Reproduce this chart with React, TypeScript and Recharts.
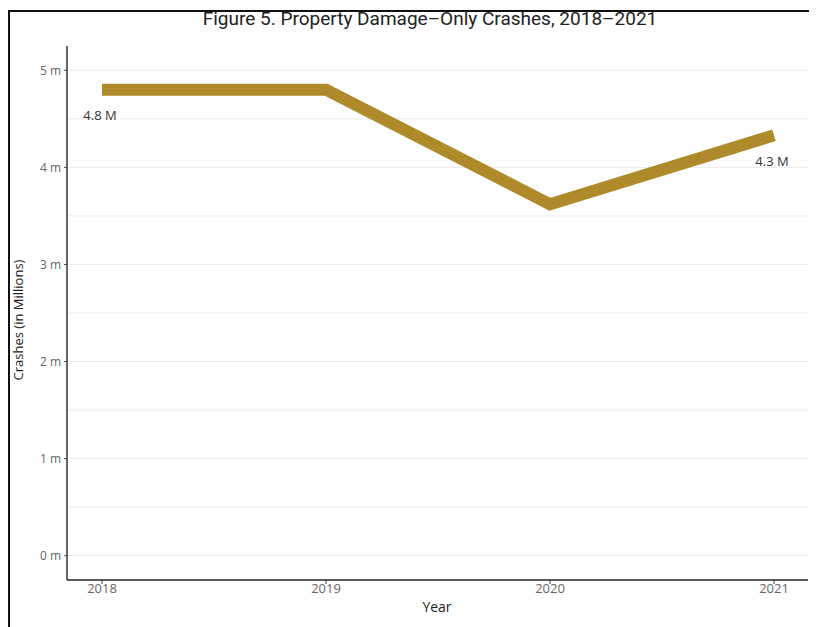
import React from "react";
import { LineChart, Line, XAxis, YAxis, CartesianGrid, LabelList } from "recharts";

const years = [2018, 2019, 2020, 2021];
const crashesMillions = [4.8, 4.8, 3.62, 4.33];
const pointLabels = ["4.8 M", "", "", "4.3 M"];
const yTicks = [0, 1, 2, 3, 4, 5];
const gridValues = [0, 0.5, 1, 1.5, 2, 2.5, 3, 3.5, 4, 4.5, 5];

const data = years.map((y, i) => ({ year: y, value: crashesMillions[i], label: pointLabels[i] }));

const PointLabel = (props: any) => {
  const { x, y, value } = props;
  if (!value) return null;
  return (
    <text x={x - 2} y={y + 27} textAnchor="middle" dominantBaseline="middle" fontSize={13} fill="#333" fontFamily="Open Sans, sans-serif">
      {value}
    </text>
  );
};

export default function App() {
  return (
    <div
      style={{
        position: "relative",
        marginTop: 2,
        width: 803,
        height: 630,
        borderTop: "2px solid #111",
        borderLeft: "2px solid #111",
        borderRight: "3px solid #111",
        background: "#fff",
        fontFamily: "Open Sans, sans-serif",
      }}
    >
      <div
        style={{
          position: "absolute",
          left: 420,
          top: -3,
          transform: "translateX(-50%)",
          whiteSpace: "nowrap",
          fontFamily: "Roboto, sans-serif",
          fontSize: 19,
          lineHeight: "20px",
          color: "#222",
        }}
      >
        Figure 5. Property Damage–Only Crashes, 2018–2021
      </div>
      <div
        style={{
          position: "absolute",
          left: 8,
          top: 308,
          transform: "translate(-50%, -50%) rotate(-90deg)",
          whiteSpace: "nowrap",
          fontSize: 13,
          color: "#222",
        }}
      >
        Crashes (in Millions)
      </div>
      <div
        style={{
          position: "absolute",
          left: 427,
          top: 594,
          transform: "translate(-50%, -50%)",
          whiteSpace: "nowrap",
          fontSize: 14,
          color: "#222",
        }}
      >
        Year
      </div>
      <LineChart width={803} height={630} data={data} margin={{ top: 34, right: 5, left: 0, bottom: 32 }}>
        <CartesianGrid horizontal={true} vertical={false} horizontalValues={gridValues} stroke="#ebebeb" strokeWidth={1} />
        <XAxis
          dataKey="year"
          type="number"
          domain={[2018, 2021]}
          ticks={years}
          padding={{ left: 35, right: 34 }}
          height={30}
          tickSize={4}
          tickMargin={0}
          axisLine={{ stroke: "#222", strokeWidth: 1.5 }}
          tickLine={{ stroke: "#444" }}
          tick={{ fontSize: 13, fill: "#666" }}
        />
        <YAxis
          type="number"
          domain={[-0.25, 5.25]}
          ticks={yTicks}
          width={57}
          tickSize={3}
          tickMargin={3}
          tickFormatter={(v: number) => `${v} m`}
          axisLine={{ stroke: "#333", strokeWidth: 1.5 }}
          tickLine={{ stroke: "#444" }}
          tick={{ fontSize: 12, fill: "#666" }}
          allowDataOverflow={true}
        />
        <Line
          type="linear"
          dataKey="value"
          stroke="#AF8A2B"
          strokeWidth={12}
          dot={false}
          activeDot={false}
          isAnimationActive={false}
        >
          <LabelList dataKey="label" content={<PointLabel />} />
        </Line>
      </LineChart>
    </div>
  );
}
